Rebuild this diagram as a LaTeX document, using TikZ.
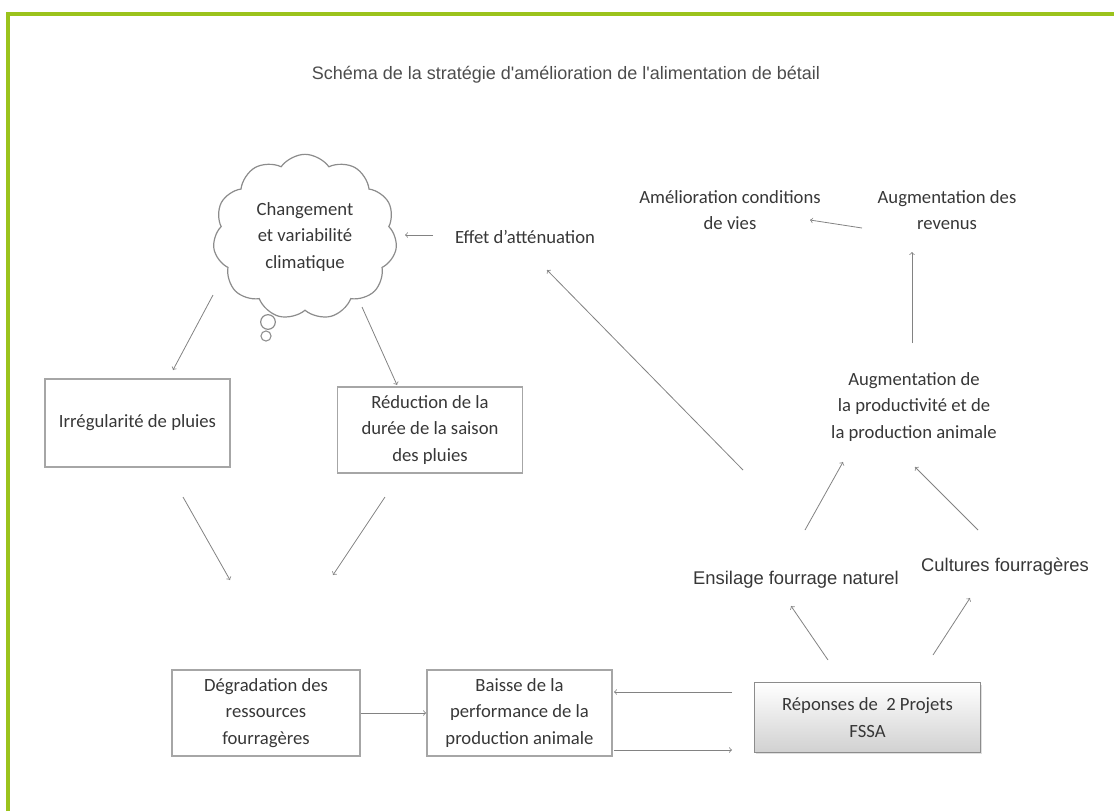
\documentclass[tikz,border=0pt]{standalone}
\usepackage{fontspec}
\setmainfont{Carlito}
\newfontfamily\arialf{Liberation Sans}
\usetikzlibrary{shapes.symbols,shadows}

\definecolor{cadre}{RGB}{155,195,28}
\definecolor{trait}{RGB}{130,130,130}
\definecolor{texte}{RGB}{55,55,55}

\begin{document}
\begin{tikzpicture}[x=0.75pt, y=-0.75pt,
    every node/.style={font=\fontsize{14}{20}\selectfont, text=texte, align=center},
    box/.style={draw=black!35, line width=1.1pt, inner sep=2pt},
    sanslbl/.style={font=\arialf\fontsize{13.8}{15}\selectfont},
    flow/.style={->, draw=trait, line width=0.6pt}]

    \useasboundingbox (0,0) rectangle (1114,811);
    \draw[cadre, line width=2.4pt] (8,811) -- (8,14) -- (1114,14);

    \node[font=\arialf\fontsize{13.5}{15}\selectfont, text=black!70] (titre) at (566,75)
        {Schéma de la stratégie d'amélioration de l'alimentation de bétail};

    % nuage et ses bulles
    \node[cloud, cloud puffs=11, cloud puff arc=110, cloud ignores aspect,
        draw=black!45, line width=0.9pt, minimum width=138pt, minimum height=124pt]
        (climat) at (305,237) {Changement\\et variabilité\\climatique};
    \draw[black!45, line width=0.9pt] (268,322) circle (5.5pt);
    \draw[black!45, line width=0.8pt] (266,336) circle (3.8pt);

    \node (attn) at (525,237) {Effet d'atténuation};
    \node (amel) at (730,210) {Amélioration conditions\\de vies};
    \node (rev) at (947,210) {Augmentation des\\revenus};
    \node (prod) at (914,407) {Augmentation de\\la productivité et de\\la production animale};
    \node[sanslbl] (ensil) at (796,580) {Ensilage fourrage naturel};
    \node[sanslbl] (cult) at (1005,567) {Cultures fourragères};

    \node[box, minimum width=139pt, minimum height=66pt] (irr) at (137.5,423) {Irrégularité de pluies};
    \node[box, minimum width=139pt, minimum height=64.5pt] (red) at (430,430) {Réduction de la\\durée de la saison\\des pluies};
    \node[box, minimum width=141pt, minimum height=64.5pt] (degr) at (266,713) {Dégradation des\\ressources\\fourragères};
    \node[box, minimum width=139pt, minimum height=64.5pt] (baisse) at (519.5,713) {Baisse de la\\performance de la\\production animale};
    \node[draw=black!45, line width=0.8pt, top color=white, bottom color=black!18,
        drop shadow={opacity=0.25, shadow xshift=1pt, shadow yshift=-1.5pt},
        minimum width=169pt, minimum height=52pt] (rep) at (867.5,717.5) {Réponses de~~2 Projets\\FSSA};

    % fleches
    \draw[flow] ([shift={(-92,-2)}]attn.center) -- ([shift={(100,-2)}]climat.center);
    \draw[flow] ([shift={(-53,-110)}]ensil.center) -- ([shift={(22,33)}]attn.center);
    \draw[flow] ([shift={(-85,18)}]rev.center) -- ([shift={(80,10)}]amel.center);
    \draw[flow] ([shift={(-2,-64)}]prod.center) -- ([shift={(-35,42)}]rev.center);
    \draw[flow] ([shift={(9,-50)}]ensil.center) -- ([shift={(-71,55)}]prod.center);
    \draw[flow] ([shift={(-27,-37)}]cult.center) -- ([shift={(1,60)}]prod.center);
    \draw[flow] ([shift={(-39.5,-57.5)}]rep.center) -- ([shift={(-5,26)}]ensil.center);
    \draw[flow] ([shift={(65.5,-62.5)}]rep.center) -- ([shift={(-35,31)}]cult.center);
    \draw[flow] ([shift={(-135.5,-25.5)}]rep.center) -- ([shift={(94.5,-21)}]baisse.center);
    \draw[flow] ([shift={(94.5,37)}]baisse.center) -- ([shift={(-135.5,32.5)}]rep.center);
    \draw[flow] (degr.east) -- (baisse.west);
    \draw[flow] ([shift={(-92,58)}]climat.center) -- ([shift={(35.5,-53)}]irr.center);
    \draw[flow] ([shift={(57,70)}]climat.center) -- ([shift={(-33,-45)}]red.center);
    \draw[flow] ([shift={(45.5,74)}]irr.center) -- ([shift={(-36,-133)}]degr.center);
    \draw[flow] ([shift={(-45,67)}]red.center) -- ([shift={(67,-138)}]degr.center);
\end{tikzpicture}
\end{document}
